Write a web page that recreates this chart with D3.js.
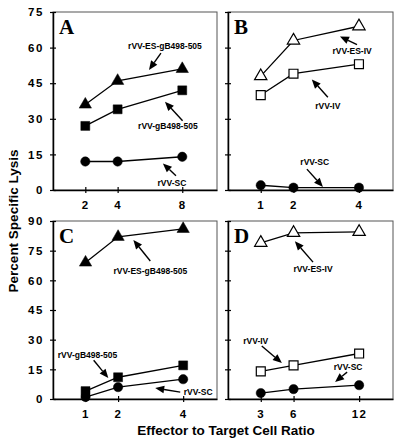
<!DOCTYPE html>
<html><head><meta charset="utf-8">
<script src="https://cdn.jsdelivr.net/npm/d3@7"></script>
<style>body{margin:0;background:#fff}svg{display:block}</style>
</head><body><svg id="c" width="400" height="443"></svg>
<script>
// ---- data ----
const xA = [2, 4, 8];
const aES = [36, 46, 51];
const aGB = [27, 34, 42];
const aSC = [12, 12, 14];

const xB = [1, 2, 4];
const bESIV = [48, 63, 69];
const bIV = [40, 49, 53];
const bSC = [2, 1, 1];

const xC = [1, 2, 4];
const cES = [69, 82, 86];
const cGB = [4, 11, 17];
const cSC = [1, 6, 10];

const xD = [3, 6, 12];
const dESIV = [79, 84, 84.5];
const dIV = [14, 17, 23];
const dSC = [3, 5, 7];

const yTicksTop = [0, 15, 30, 45, 60, 75];
const yTicksBottom = [0, 15, 30, 45, 60, 75, 90];

// ---- panels ----
const panels = [
  {letter: "A", box: [53, 12, 217, 190], xDom: [0, 10.15], yDom: [0, 75], xTicks: xA, yTicks: yTicksTop, yLabels: true,
   series: [
     {x: xA, y: aES, shape: "tri", filled: true},
     {x: xA, y: aGB, shape: "sq", filled: true},
     {x: xA, y: aSC, shape: "circ", filled: true}],
   notes: [
     {text: "rVV-ES-gB498-505", at: [6.93, 60.7], tail: [6.68, 57.7], tip: [5.94, 50.6]},
     {text: "rVV-gB498-505", at: [7.11, 27.0], tail: [8.02, 29.2], tip: [6.93, 37.2]},
     {text: "rVV-SC", at: [7.36, 3.0], tail: [7.61, 6.0], tip: [6.80, 11.2]}]},
  {letter: "B", box: [228, 12, 393, 190], xDom: [0, 5.04], yDom: [0, 75], xTicks: xB, yTicks: yTicksTop, yLabels: false,
   series: [
     {x: xB, y: bESIV, shape: "tri", filled: false},
     {x: xB, y: bIV, shape: "sq", filled: false},
     {x: xB, y: bSC, shape: "circ", filled: true}],
   notes: [
     {text: "rVV-ES-IV", at: [3.79, 58.4], tail: [3.94, 61.3], tip: [3.42, 64.7]},
     {text: "rVV-IV", at: [3.05, 35.3], tail: [3.05, 39.1], tip: [2.56, 46.6]},
     {text: "rVV-SC", at: [2.65, 11.8], tail: [2.41, 8.8], tip: [2.90, 1.3]}]},
  {letter: "C", box: [53, 221, 217, 399], xDom: [0, 5.04], yDom: [0, 90], xTicks: xC, yTicks: yTicksBottom, yLabels: true,
   series: [
     {x: xC, y: cES, shape: "tri", filled: true},
     {x: xC, y: cGB, shape: "sq", filled: true},
     {x: xC, y: cSC, shape: "circ", filled: true}],
   notes: [
     {text: "rVV-ES-gB498-505", at: [2.99, 64.8], tail: [2.99, 69.8], tip: [2.47, 80.4]},
     {text: "rVV-gB498-505", at: [1.06, 22.1], tail: [1.25, 19.6], tip: [1.70, 10.6]},
     {text: "rVV-SC", at: [4.46, 3.5], tail: [3.91, 3.5], tip: [3.14, 5.5]}]},
  {letter: "D", box: [228, 221, 393, 399], xDom: [0, 15.1], yDom: [0, 90], xTicks: xD, yTicks: yTicksBottom, yLabels: false,
   series: [
     {x: xD, y: dESIV, shape: "tri", filled: false},
     {x: xD, y: dIV, shape: "sq", filled: false},
     {x: xD, y: dSC, shape: "circ", filled: true}],
   notes: [
     {text: "rVV-ES-IV", at: [7.78, 65.7], tail: [7.78, 69.2], tip: [6.12, 79.8]},
     {text: "rVV-IV", at: [2.54, 29.3], tail: [3.09, 26.8], tip: [4.93, 18.2]},
     {text: "rVV-SC", at: [10.99, 16.2], tail: [10.9, 13.6], tip: [9.80, 8.6]}]}
];

const svg = d3.select("#c");
const FONT = "'Liberation Sans', Arial, Helvetica, sans-serif";

const symbols = {
  tri: d3.symbol().type(d3.symbolTriangle).size(66),
  sq: d3.symbol().type(d3.symbolSquare).size(80),
  circ: d3.symbol().type(d3.symbolCircle).size(68)
};

panels.forEach(p => {
  const [x0, y0, x1, y1] = p.box;
  const x = d3.scaleLinear().domain(p.xDom).range([x0, x1]);
  const y = d3.scaleLinear().domain(p.yDom).range([y1, y0]);
  const g = svg.append("g");

  // frame
  g.append("rect").attr("x", x0).attr("y", y0).attr("width", x1 - x0).attr("height", y1 - y0)
    .attr("fill", "none").attr("stroke", "#555").attr("stroke-width", 1);

  // y axis
  const ya = d3.axisLeft(y).tickValues(p.yTicks).tickSizeInner(-3).tickSizeOuter(0).tickPadding(8)
    .tickFormat(p.yLabels ? d3.format("d") : () => "");
  const yg = g.append("g").attr("transform", `translate(${x0},0)`).call(ya);
  yg.select(".domain").attr("stroke", "#000").attr("stroke-width", 1.5);
  yg.selectAll(".tick line").attr("x1", -3).attr("x2", 3).attr("stroke", "#000").attr("stroke-width", 1.2);
  yg.selectAll(".tick text").attr("font-family", FONT).attr("font-weight", "bold").attr("font-size", 11.5)
    .attr("letter-spacing", 1.6).attr("fill", "#000").attr("x", -9);

  // x axis
  const xa = d3.axisBottom(x).tickValues(p.xTicks).tickSizeInner(3).tickSizeOuter(0).tickPadding(8)
    .tickFormat(d3.format("d"));
  const xg = g.append("g").attr("transform", `translate(0,${y1})`).call(xa);
  xg.select(".domain").attr("stroke", "#000").attr("stroke-width", 1.5);
  xg.selectAll(".tick line").attr("y1", -3).attr("y2", 3).attr("stroke", "#000").attr("stroke-width", 1.2);
  xg.selectAll(".tick text").attr("font-family", FONT).attr("font-weight", "bold").attr("font-size", 11.5)
    .attr("letter-spacing", 1.6).attr("fill", "#000");

  // panel letter
  g.append("text").attr("x", x0 + 6).attr("y", y0 + 22).text(p.letter)
    .attr("font-family", "'Liberation Serif', 'Times New Roman', serif").attr("font-weight", "bold")
    .attr("font-size", 21).attr("fill", "#000");

  // series
  const line = d3.line().x(d => x(d[0])).y(d => y(d[1]));
  p.series.forEach(s => {
    const pts = s.x.map((v, i) => [v, s.y[i]]);
    g.append("path").attr("d", line(pts)).attr("fill", "none").attr("stroke", "#000").attr("stroke-width", 1.3);
    g.selectAll(null).data(pts).enter().append("path")
      .attr("d", symbols[s.shape])
      .attr("transform", d => `translate(${x(d[0])},${y(d[1])})`)
      .attr("fill", s.filled ? "#000" : "#fff")
      .attr("stroke", "#000").attr("stroke-width", s.filled ? 0.5 : 1.2);
  });

  // annotations
  p.notes.forEach(n => {
    const tx = x(n.tail[0]), ty = y(n.tail[1]);
    const hx = x(n.tip[0]), hy = y(n.tip[1]);
    const ang = Math.atan2(hy - ty, hx - tx);
    const L = 9, W = 3.8;
    const bx = hx - L * Math.cos(ang), by = hy - L * Math.sin(ang);
    g.append("line").attr("x1", tx).attr("y1", ty).attr("x2", bx).attr("y2", by)
      .attr("stroke", "#000").attr("stroke-width", 1.4);
    const px = -Math.sin(ang) * W, py = Math.cos(ang) * W;
    g.append("path")
      .attr("d", `M${hx},${hy}L${bx + px},${by + py}L${bx - px},${by - py}Z`)
      .attr("fill", "#000");
    g.append("text").attr("x", x(n.at[0])).attr("y", y(n.at[1])).attr("dy", "0.35em")
      .attr("text-anchor", "middle").text(n.text)
      .attr("font-family", FONT).attr("font-weight", "bold").attr("font-size", 8.5).attr("fill", "#000");
  });
});

// axis titles
svg.append("text").attr("transform", "translate(13,221) rotate(-90)").attr("text-anchor", "middle")
  .attr("dy", "0.35em").text("Percent Specific Lysis")
  .attr("font-family", FONT).attr("font-weight", "bold").attr("font-size", 13.5).attr("fill", "#000");
svg.append("text").attr("x", 226).attr("y", 430).attr("text-anchor", "middle").attr("dy", "0.35em")
  .text("Effector to Target Cell Ratio")
  .attr("font-family", FONT).attr("font-weight", "bold").attr("font-size", 13.5).attr("fill", "#000");
</script></body></html>
